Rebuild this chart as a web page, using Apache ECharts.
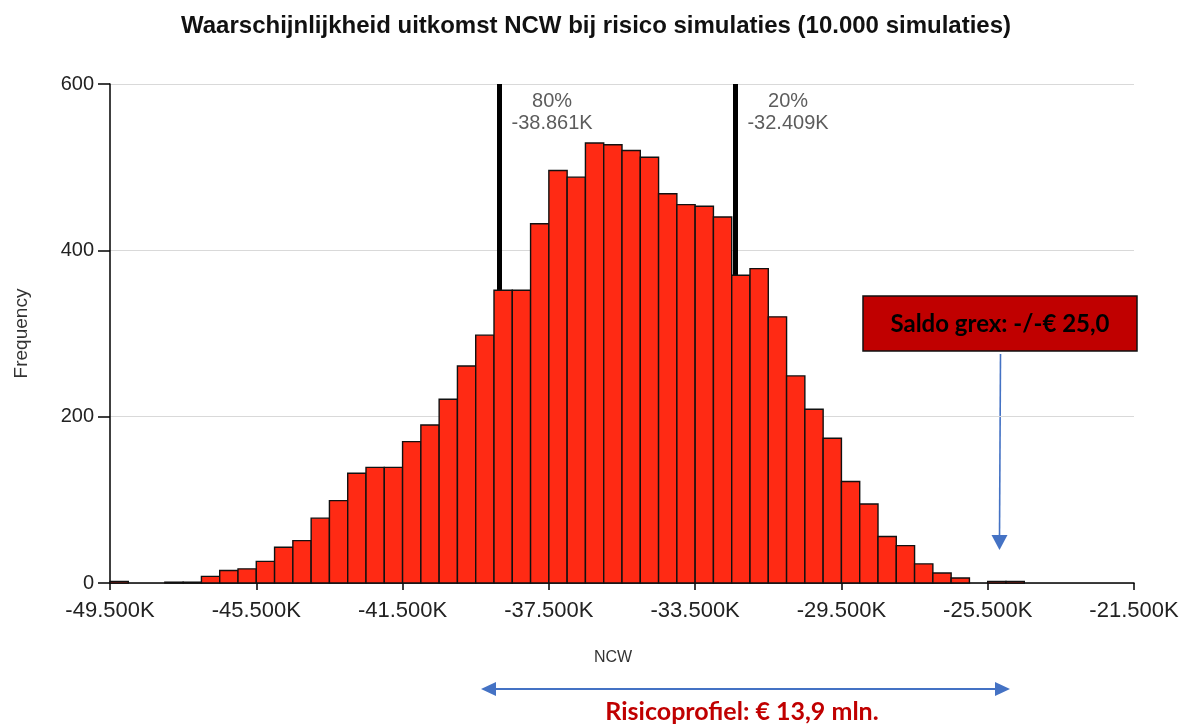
<!DOCTYPE html>
<html>
<head>
<meta charset="utf-8">
<title>Waarschijnlijkheid uitkomst NCW</title>
<script src="https://cdn.jsdelivr.net/npm/echarts@6/dist/echarts.min.js"></script>
<style>
  html, body { margin: 0; padding: 0; background: #fff; }
  #ncwChart { width: 1192px; height: 724px; }
</style>
</head>
<body>
<div id="ncwChart"></div>
<script>
  // NCW in K euro, each bin is 500K wide (start value of bin)
  let binWidth = 500;
  // prettier-ignore
  let binStart = [-49500, -49000, -48500, -48000, -47500, -47000, -46500, -46000, -45500, -45000,
    -44500, -44000, -43500, -43000, -42500, -42000, -41500, -41000, -40500, -40000,
    -39500, -39000, -38500, -38000, -37500, -37000, -36500, -36000, -35500, -35000,
    -34500, -34000, -33500, -33000, -32500, -32000, -31500, -31000, -30500, -30000,
    -29500, -29000, -28500, -28000, -27500, -27000, -26500, -26000, -25500, -25000];
  // prettier-ignore
  let frequency = [2, 0, 0, 1, 1, 8, 15, 17, 26, 43,
    51, 78, 99, 132, 139, 139, 170, 190, 221, 261,
    298, 352, 352, 432, 496, 488, 529, 527, 520, 512,
    468, 455, 453, 440, 370, 378, 320, 249, 209, 174,
    122, 95, 56, 45, 23, 12, 6, 0, 2, 2];
  let xTicks = [-49500, -45500, -41500, -37500, -33500, -29500, -25500, -21500];
  let percentileValues = [-38861, -32409];
  let percentileNames = ["80%", "20%"];

  let font = "Liberation Sans, Arial, sans-serif";
  let blue = "#4472c4";

  function fmtK(v) {
    let s = Math.abs(v).toString().replace(/\B(?=(\d{3})+(?!\d))/g, ".");
    return (v < 0 ? "-" : "") + s + "K";
  }

  let bins = [];
  for (let i = 0; i < binStart.length; i++) {
    if (frequency[i] > 0) bins.push([binStart[i], binStart[i] + binWidth, frequency[i]]);
  }

  let chart = echarts.init(document.getElementById("ncwChart"));
  let axisStroke = { color: "#000", width: 1.5 };

  let option = {
    animation: false,
    backgroundColor: "#fff",
    textStyle: { fontFamily: font },
    title: {
      text: "Waarschijnlijkheid uitkomst NCW bij risico simulaties (10.000 simulaties)",
      left: "center",
      top: 9,
      textStyle: { fontSize: 24, fontWeight: "bold", color: "#111", fontFamily: font },
    },
    grid: { left: 110, right: 58, top: 84, bottom: 141, containLabel: false },
    xAxis: {
      type: "value",
      min: -49500,
      max: -21500,
      name: "NCW",
      nameLocation: "middle",
      nameGap: 67,
      nameTextStyle: { fontSize: 16, color: "#333", padding: [0, 18, 0, 0] },
      axisLine: { onZero: false, lineStyle: axisStroke },
      axisTick: { show: true, length: 7, customValues: xTicks, lineStyle: axisStroke },
      axisLabel: {
        customValues: xTicks,
        formatter: fmtK,
        margin: 17,
        fontSize: 22,
        color: "#222",
      },
      splitLine: { show: false },
    },
    yAxis: {
      type: "value",
      min: 0,
      max: 600,
      interval: 200,
      name: "Frequency",
      nameLocation: "middle",
      nameRotate: 90,
      nameGap: 79,
      nameTextStyle: { fontSize: 19, color: "#333" },
      axisLine: { show: true, lineStyle: axisStroke },
      axisTick: { show: true, length: 12, lineStyle: axisStroke },
      axisLabel: { margin: 16, fontSize: 20, color: "#222" },
      splitLine: { show: true, lineStyle: { color: "#d9d9d9", width: 1.2 } },
    },
    series: [
      {
        name: "histogram",
        type: "custom",
        z: 10,
        encode: { x: [0, 1], y: 2 },
        data: bins,
        renderItem: function (params, api) {
          let top = api.coord([api.value(0), api.value(2)]);
          let bottom = api.coord([api.value(1), 0]);
          return {
            type: "rect",
            shape: {
              x: top[0],
              y: top[1],
              width: bottom[0] - top[0],
              height: bottom[1] - top[1],
            },
            style: { fill: "#ff2a14", stroke: "#111", lineWidth: 1.4 },
          };
        },
      },
      {
        name: "percentiles",
        type: "scatter",
        z: 2,
        symbolSize: 0,
        data: percentileValues.map((v, i) => [v, 600, percentileNames[i]]),
        label: {
          show: true,
          position: "bottom",
          distance: 6,
          offset: [53, 0],
          align: "center",
          fontSize: 20,
          lineHeight: 22,
          color: "#333",
          formatter: (p) => p.data[2] + "\n" + fmtK(p.data[0]),
        },
        markLine: {
          silent: true,
          z: 2,
          symbol: ["none", "none"],
          label: { show: false },
          lineStyle: { color: "#000", width: 5, type: "solid" },
          data: percentileValues.map((v) => ({ xAxis: v })),
        },
      },
    ],
    graphic: [
      {
        type: "rect",
        shape: { x: 863, y: 296, width: 274, height: 55 },
        style: { fill: "#c00000", stroke: "#111", lineWidth: 1.5 },
      },
      {
        type: "text",
        x: 1000,
        y: 324,
        style: {
          text: "Saldo grex: -/-€ 25,0",
          fill: "#000",
          font: "bold 24px Lato, 'Open Sans', sans-serif",
          align: "center",
          verticalAlign: "middle",
        },
      },
      {
        type: "line",
        shape: { x1: 1000.5, y1: 354, x2: 999.5, y2: 537 },
        style: { stroke: blue, lineWidth: 1.6 },
      },
      {
        type: "polygon",
        shape: { points: [[991.5, 535], [1007.5, 535], [999.5, 550]] },
        style: { fill: blue },
      },
      {
        type: "line",
        shape: { x1: 494, y1: 689, x2: 997, y2: 689 },
        style: { stroke: blue, lineWidth: 2 },
      },
      {
        type: "polygon",
        shape: { points: [[481, 689], [496, 682], [496, 696]] },
        style: { fill: blue },
      },
      {
        type: "polygon",
        shape: { points: [[1010, 689], [995, 682], [995, 696]] },
        style: { fill: blue },
      },
      {
        type: "text",
        x: 742,
        y: 712,
        style: {
          text: "Risicoprofiel: € 13,9 mln.",
          fill: "#c00000",
          font: "bold 25px Lato, 'Open Sans', sans-serif",
          align: "center",
          verticalAlign: "middle",
        },
      },
    ],
  };

  chart.setOption(option);
</script>
</body>
</html>
